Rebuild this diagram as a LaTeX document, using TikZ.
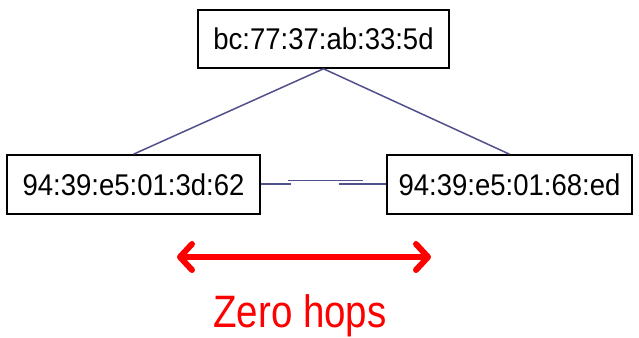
\documentclass[tikz,border=0pt]{standalone}
\usepackage{fontspec}
\setmainfont{Liberation Sans}
\usetikzlibrary{arrows.meta}
\definecolor{linkblue}{RGB}{80,80,140}
\definecolor{hopred}{RGB}{255,0,0}
\newcommand{\tallmac}[1]{\scalebox{1}[1.09]{#1}}
\tikzset{
  macbox/.style={draw=black, line width=1.6pt, fill=white, inner sep=0pt, font=\fontsize{27.5}{30}\selectfont},
  link/.style={draw=linkblue, line width=1.5pt},
  hoparrow/.style={draw=hopred, line width=6pt, {Straight Barb[round,length=12pt,width=26pt]}-{Straight Barb[round,length=12pt,width=26pt]}}
}
\begin{document}
\begin{tikzpicture}[x=1pt,y=-1pt]
  \useasboundingbox (0,0) rectangle (639,337);
  % switch-connected hosts
  \node[macbox, minimum width=251pt, minimum height=58pt] (top) at (323.5,39) {\tallmac{bc:77:37:ab:33:5d}};
  \node[macbox, minimum width=253pt, minimum height=59pt] (left) at (133.5,184.5) {\tallmac{94:39:e5:01:3d:62}};
  \node[macbox, minimum width=245pt, minimum height=59pt] (right) at (509.5,184.5) {\tallmac{94:39:e5:01:68:ed}};
  % links up to the top host
  \draw[link] (top.south) -- (left.north);
  \draw[link] (top.south) -- (right.north);
  % direct link between the two lower hosts
  \coordinate (la) at (291,184);
  \coordinate (ua) at (288,180.5);
  \coordinate (ub) at (363,180.5);
  \coordinate (ra) at (339,184);
  \draw[link] (left.east |- la) -- (la);
  \draw[link] (ua) -- (ub);
  \draw[link] (ra) -- (right.west |- ra);
  % hop distance
  \coordinate (al) at (177,257);
  \coordinate (ar) at (431,257);
  \draw[hoparrow] (al) -- (ar);
  \node[text=hopred, font=\fontsize{38.5}{42}\selectfont, anchor=base, inner sep=0pt] (hops) at (300,327) {\scalebox{1}[1.18]{Zero hops}};
\end{tikzpicture}
\end{document}
